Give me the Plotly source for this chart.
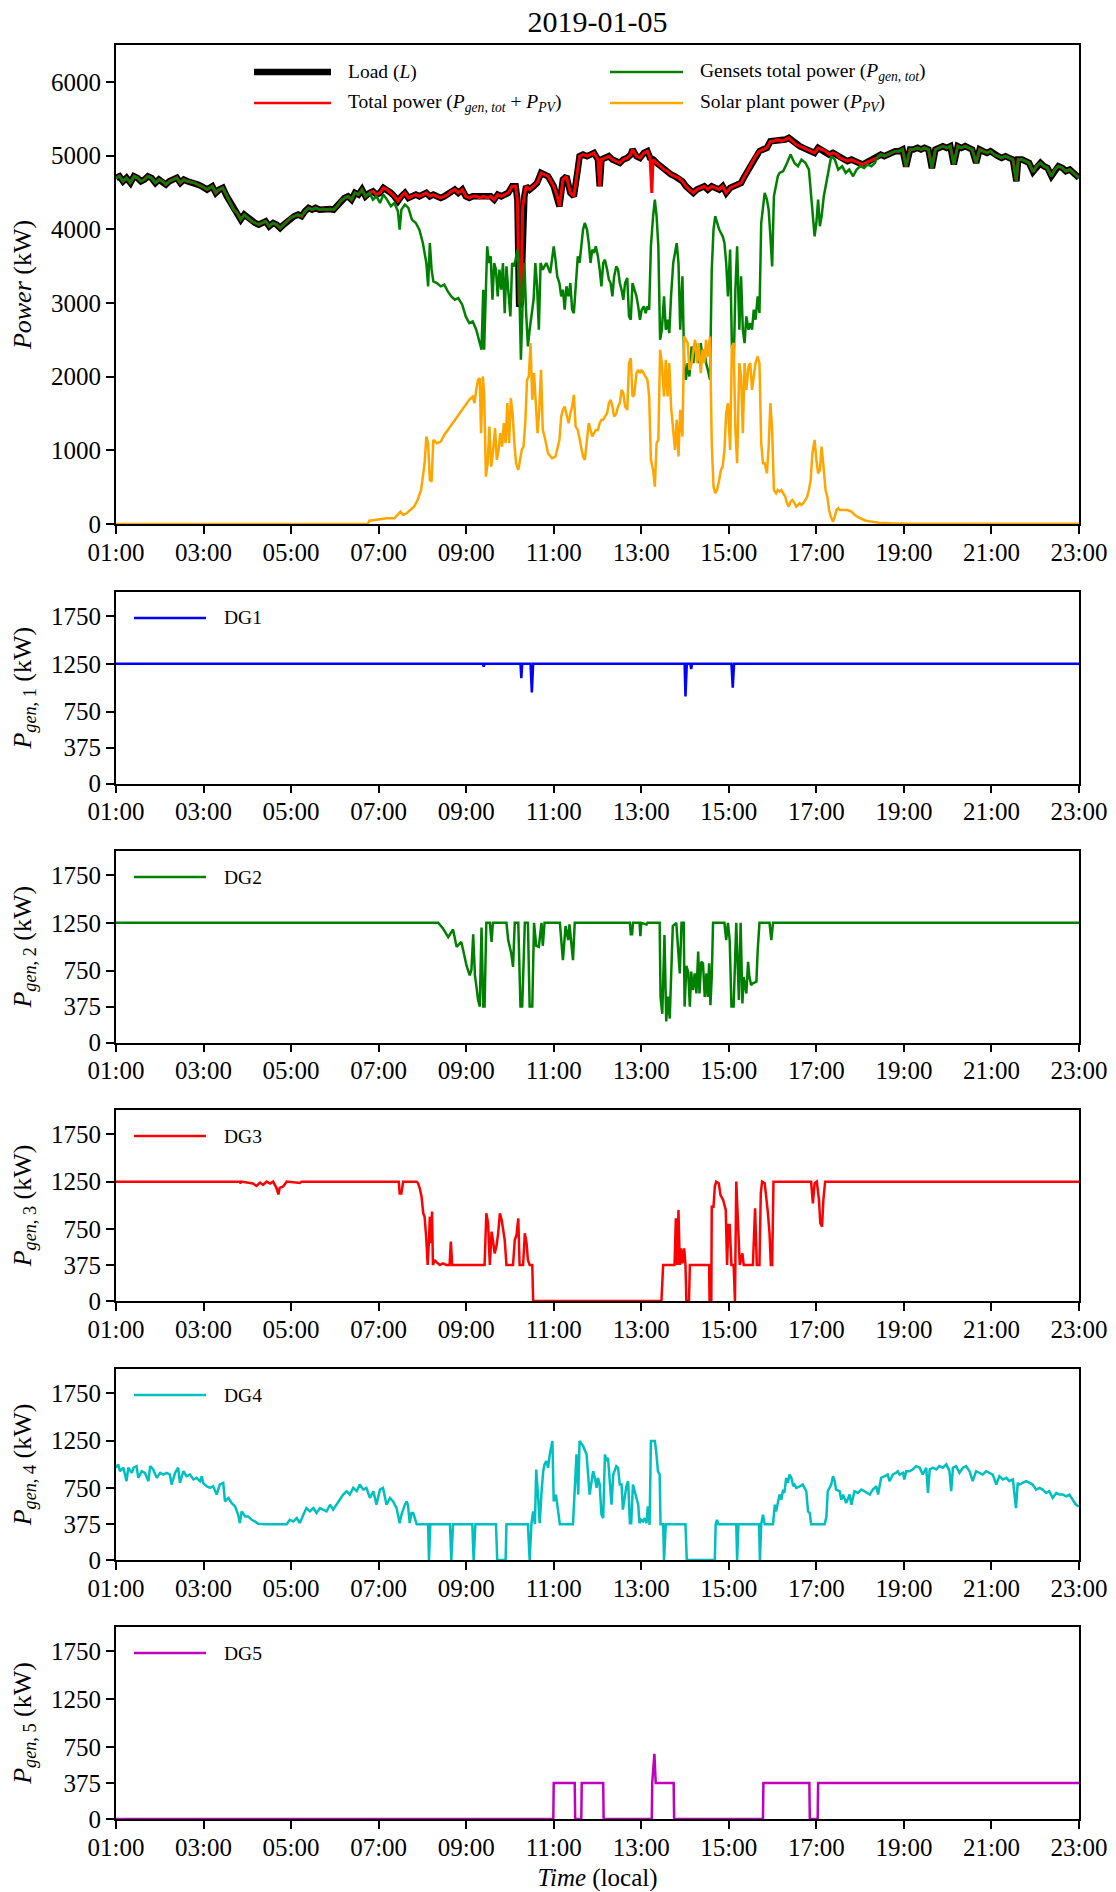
import pandas as pd
import plotly.graph_objects as go
from plotly.subplots import make_subplots

# ---------------------------------------------------------------- data
DAY = "2019-01-05"
X_TICKS = ["01:00", "03:00", "05:00", "07:00", "09:00", "11:00",
           "13:00", "15:00", "17:00", "19:00", "21:00", "23:00"]
TOP_YTICKS = [0, 1000, 2000, 3000, 4000, 5000, 6000]
DG_YTICKS = [0, 375, 750, 1250, 1750]

# load (L) and total power (Pgen,tot + PPV), hours of day / kW
lt_h = [
    1.00, 1.08, 1.16, 1.24, 1.33, 1.41, 1.49, 1.57, 1.65, 1.73,
    1.81, 1.90, 1.98, 2.06, 2.14, 2.22, 2.30, 2.39, 2.47, 2.55,
    2.63, 2.79, 2.87, 2.96, 3.08, 3.20, 3.28, 3.36, 3.44, 3.53,
    3.61, 3.69, 3.77, 3.85, 3.93, 4.02, 4.10, 4.18, 4.26, 4.34,
    4.42, 4.50, 4.59, 4.67, 4.75, 4.83, 4.91, 4.99, 5.07, 5.16,
    5.24, 5.32, 5.40, 5.48, 5.56, 5.65, 5.73, 5.81, 5.89, 5.97,
    6.05, 6.13, 6.22, 6.30, 6.38, 6.46, 6.54, 6.62, 6.70, 6.79,
    6.87, 6.95, 7.03, 7.11, 7.19, 7.28, 7.36, 7.44, 7.52, 7.60,
    7.68, 7.76, 7.85, 7.93, 8.01, 8.09, 8.17, 8.25, 8.33, 8.42,
    8.50, 8.58, 8.66, 8.74, 8.82, 8.91, 8.99, 9.07, 9.15, 9.23,
    9.31, 9.39, 9.48, 9.56, 9.64, 9.72, 9.80, 9.88, 9.96, 10.05,
    10.13, 10.17, 10.21, 10.25, 10.29, 10.33, 10.37, 10.45, 10.54, 10.62,
    10.71, 10.87, 11.00, 11.08, 11.13, 11.21, 11.29, 11.38, 11.46, 11.55,
    11.59, 11.67, 11.76, 11.84, 11.92, 12.01, 12.05, 12.09, 12.17, 12.26,
    12.34, 12.43, 12.51, 12.59, 12.68, 12.76, 12.80, 12.89, 12.97, 13.06,
    13.14, 13.20, 13.24, 13.27, 13.35, 13.43, 13.52, 13.60, 13.68, 13.77,
    13.85, 13.94, 14.02, 14.10, 14.19, 14.27, 14.36, 14.44, 14.52, 14.61,
    14.69, 14.78, 14.86, 14.94, 15.03, 15.11, 15.19, 15.28, 15.36, 15.45,
    15.53, 15.61, 15.70, 15.78, 15.87, 15.95, 16.03, 16.12, 16.20, 16.29,
    16.37, 16.45, 16.54, 16.62, 16.70, 16.79, 16.87, 16.96, 17.04, 17.12,
    17.21, 17.29, 17.38, 17.46, 17.54, 17.63, 17.71, 17.80, 17.88, 17.96,
    18.05, 18.13, 18.21, 18.30, 18.38, 18.47, 18.55, 18.63, 18.72, 18.80,
    18.89, 18.97, 19.05, 19.14, 19.22, 19.31, 19.39, 19.47, 19.56, 19.64,
    19.72, 19.81, 19.89, 19.98, 20.06, 20.14, 20.23, 20.31, 20.40, 20.48,
    20.56, 20.65, 20.73, 20.81, 20.90, 20.98, 21.07, 21.15, 21.23, 21.32,
    21.40, 21.49, 21.57, 21.61, 21.70, 21.78, 21.86, 21.95, 22.03, 22.12,
    22.20, 22.28, 22.37, 22.45, 22.53, 22.62, 22.70, 22.79, 22.87, 22.95,
    23.00,
]
load_kw = [
    4697, 4719, 4651, 4697, 4629, 4719, 4697, 4651, 4674, 4719,
    4697, 4629, 4674, 4651, 4606, 4651, 4674, 4697, 4629, 4674,
    4651, 4629, 4606, 4583, 4538, 4583, 4493, 4538, 4561, 4447,
    4357, 4266, 4221, 4130, 4198, 4153, 4108, 4085, 4062, 4085,
    4108, 4040, 4085, 4062, 4017, 4062, 4108, 4153, 4176, 4198,
    4176, 4244, 4289, 4266, 4289, 4266, 4275, 4266, 4275, 4266,
    4312, 4380, 4425, 4447, 4402, 4493, 4470, 4538, 4447, 4493,
    4515, 4470, 4493, 4561, 4538, 4493, 4447, 4380, 4447, 4493,
    4425, 4447, 4470, 4447, 4470, 4493, 4447, 4470, 4447, 4425,
    4447, 4470, 4515, 4538, 4493, 4538, 4447, 4425, 4447, 4447,
    4425, 4447, 4425, 4447, 4402, 4470, 4447, 4470, 4493, 4583,
    4583, 4400, 2950, 3000, 4300, 4450, 4583, 4538, 4583, 4629,
    4764, 4719, 4583, 4447, 4312, 4674, 4719, 4493, 4447, 4810,
    4991, 5013, 4991, 5013, 5036, 4946, 4583, 4946, 4968, 4991,
    4946, 4923, 4900, 4946, 4968, 5013, 5082, 4991, 4968, 5036,
    5059, 4968, 4968, 4946, 4900, 4855, 4810, 4787, 4742, 4719,
    4697, 4651, 4583, 4538, 4493, 4538, 4561, 4583, 4538, 4583,
    4561, 4538, 4583, 4493, 4561, 4583, 4606, 4629, 4719, 4810,
    4900, 4991, 5059, 5082, 5104, 5195, 5195, 5217, 5195, 5217,
    5240, 5195, 5149, 5127, 5104, 5082, 5059, 5036, 5104, 5082,
    5059, 5013, 5036, 5013, 4968, 4946, 4923, 4946, 4923, 4900,
    4878, 4900, 4923, 4946, 4968, 5013, 4991, 5013, 5036, 5059,
    5059, 5082, 4850, 5082, 5082, 5104, 5082, 5104, 5082, 4830,
    5082, 5104, 5127, 5104, 5127, 4880, 5127, 5104, 5127, 5104,
    5082, 4900, 5082, 5059, 5036, 5059, 5013, 4991, 4968, 4991,
    4968, 4946, 4651, 4946, 4946, 4923, 4900, 4780, 4855, 4900,
    4855, 4832, 4720, 4810, 4855, 4832, 4787, 4810, 4764, 4719,
    4697,
]
total_kw = [
    4697, 4719, 4651, 4697, 4629, 4719, 4697, 4651, 4674, 4719,
    4697, 4629, 4674, 4651, 4606, 4651, 4674, 4697, 4629, 4674,
    4651, 4629, 4606, 4583, 4538, 4583, 4493, 4538, 4561, 4447,
    4357, 4266, 4221, 4130, 4198, 4153, 4108, 4085, 4062, 4085,
    4108, 4040, 4085, 4062, 4017, 4062, 4108, 4153, 4176, 4198,
    4176, 4244, 4289, 4266, 4289, 4266, 4275, 4266, 4275, 4266,
    4312, 4380, 4425, 4447, 4402, 4493, 4470, 4538, 4447, 4493,
    4515, 4470, 4493, 4561, 4538, 4493, 4447, 4380, 4447, 4493,
    4425, 4447, 4470, 4447, 4470, 4493, 4447, 4470, 4447, 4425,
    4447, 4470, 4515, 4538, 4493, 4538, 4447, 4425, 4447, 4447,
    4425, 4447, 4425, 4447, 4402, 4470, 4447, 4470, 4493, 4583,
    4583, 4400, 2980, 3020, 4300, 4450, 4583, 4538, 4583, 4629,
    4764, 4719, 4583, 4447, 4312, 4674, 4719, 4493, 4447, 4810,
    4991, 5013, 4991, 5013, 5036, 4946, 4583, 4946, 4968, 4991,
    4946, 4923, 4900, 4946, 4968, 5013, 5082, 4991, 4968, 5036,
    5059, 4968, 4493, 4946, 4900, 4855, 4810, 4787, 4742, 4719,
    4697, 4651, 4583, 4538, 4493, 4538, 4561, 4583, 4538, 4583,
    4561, 4538, 4583, 4493, 4561, 4583, 4606, 4629, 4719, 4810,
    4900, 4991, 5059, 5082, 5104, 5195, 5195, 5217, 5195, 5217,
    5240, 5195, 5149, 5127, 5104, 5082, 5059, 5036, 5104, 5082,
    5059, 5013, 5036, 5013, 4968, 4946, 4923, 4946, 4923, 4900,
    4878, 4900, 4923, 4946, 4968, 5013, 4991, 5013, 5036, 5059,
    5059, 5082, 4850, 5082, 5082, 5104, 5082, 5104, 5082, 4830,
    5082, 5104, 5127, 5104, 5127, 4880, 5127, 5104, 5127, 5104,
    5082, 4900, 5082, 5059, 5036, 5059, 5013, 4991, 4968, 4991,
    4968, 4946, 4651, 4946, 4946, 4923, 4900, 4780, 4855, 4900,
    4855, 4832, 4720, 4810, 4855, 4832, 4787, 4810, 4764, 4719,
    4697,
]

# gensets total power (Pgen,tot)
gen_h = [
    1.00, 1.08, 1.16, 1.24, 1.33, 1.41, 1.49, 1.57, 1.65, 1.73,
    1.81, 1.90, 1.98, 2.06, 2.14, 2.22, 2.30, 2.39, 2.47, 2.55,
    2.63, 2.79, 2.87, 2.96, 3.08, 3.20, 3.28, 3.36, 3.44, 3.53,
    3.61, 3.69, 3.77, 3.85, 3.93, 4.02, 4.10, 4.18, 4.26, 4.34,
    4.42, 4.50, 4.59, 4.67, 4.75, 4.83, 4.91, 4.99, 5.07, 5.16,
    5.24, 5.32, 5.40, 5.48, 5.56, 5.65, 5.73, 5.81, 5.89, 5.97,
    6.05, 6.13, 6.22, 6.30, 6.38, 6.46, 6.54, 6.62, 6.70, 6.79,
    6.87, 6.95, 7.03, 7.11, 7.19, 7.28, 7.36, 7.44, 7.48, 7.52,
    7.60, 7.68, 7.76, 7.85, 7.93, 8.01, 8.09, 8.13, 8.17, 8.21,
    8.25, 8.33, 8.42, 8.50, 8.58, 8.66, 8.74, 8.82, 8.91, 8.99,
    9.07, 9.15, 9.23, 9.31, 9.35, 9.39, 9.41, 9.48, 9.52, 9.56,
    9.60, 9.64, 9.68, 9.72, 9.76, 9.80, 9.84, 9.88, 9.92, 9.96,
    10.01, 10.05, 10.09, 10.13, 10.17, 10.21, 10.25, 10.29, 10.33, 10.37,
    10.41, 10.45, 10.54, 10.58, 10.62, 10.66, 10.70, 10.75, 10.83, 10.92,
    10.96, 11.00, 11.04, 11.08, 11.13, 11.17, 11.21, 11.25, 11.29, 11.34,
    11.38, 11.42, 11.46, 11.50, 11.55, 11.59, 11.63, 11.67, 11.71, 11.76,
    11.80, 11.84, 11.88, 11.92, 11.96, 12.01, 12.05, 12.09, 12.13, 12.17,
    12.22, 12.26, 12.30, 12.34, 12.38, 12.43, 12.47, 12.51, 12.55, 12.59,
    12.63, 12.68, 12.72, 12.76, 12.80, 12.84, 12.89, 12.93, 12.97, 13.01,
    13.06, 13.10, 13.14, 13.18, 13.22, 13.27, 13.31, 13.35, 13.39, 13.43,
    13.47, 13.52, 13.56, 13.60, 13.64, 13.68, 13.73, 13.77, 13.81, 13.85,
    13.89, 13.94, 13.98, 14.02, 14.06, 14.10, 14.15, 14.19, 14.23, 14.27,
    14.31, 14.36, 14.40, 14.44, 14.48, 14.52, 14.57, 14.61, 14.65, 14.69,
    14.73, 14.78, 14.82, 14.86, 14.90, 14.94, 14.98, 15.03, 15.07, 15.11,
    15.15, 15.19, 15.24, 15.28, 15.32, 15.36, 15.40, 15.45, 15.49, 15.53,
    15.57, 15.61, 15.66, 15.70, 15.74, 15.78, 15.82, 15.87, 15.91, 15.95,
    15.99, 16.03, 16.08, 16.12, 16.16, 16.24, 16.33, 16.41, 16.50, 16.58,
    16.66, 16.75, 16.83, 16.91, 16.96, 17.00, 17.04, 17.08, 17.12, 17.17,
    17.25, 17.34, 17.42, 17.50, 17.59, 17.67, 17.75, 17.84, 17.92, 18.00,
    18.09, 18.17, 18.26, 18.34, 18.38, 18.47, 18.55, 18.63, 18.72, 18.80,
    18.89, 18.97, 19.05, 19.14, 19.22, 19.31, 19.39, 19.47, 19.56, 19.64,
    19.72, 19.81, 19.89, 19.98, 20.06, 20.14, 20.23, 20.31, 20.40, 20.48,
    20.56, 20.65, 20.73, 20.81, 20.90, 20.98, 21.07, 21.15, 21.23, 21.32,
    21.40, 21.49, 21.57, 21.61, 21.70, 21.78, 21.86, 21.95, 22.03, 22.12,
    22.20, 22.28, 22.37, 22.45, 22.53, 22.62, 22.70, 22.79, 22.87, 22.95,
    23.00,
]
gen_kw = [
    4697, 4719, 4651, 4697, 4629, 4719, 4697, 4651, 4674, 4719,
    4697, 4629, 4674, 4651, 4606, 4651, 4674, 4697, 4629, 4674,
    4651, 4629, 4606, 4583, 4538, 4583, 4493, 4538, 4561, 4447,
    4357, 4266, 4221, 4130, 4198, 4153, 4108, 4085, 4062, 4085,
    4108, 4040, 4085, 4062, 4017, 4062, 4108, 4153, 4176, 4198,
    4176, 4244, 4289, 4266, 4289, 4266, 4275, 4266, 4275, 4266,
    4312, 4380, 4425, 4447, 4402, 4493, 4470, 4538, 4447, 4493,
    4402, 4447, 4357, 4470, 4402, 4312, 4357, 4244, 3995, 4266,
    4334, 4289, 4130, 4085, 3995, 3813, 3542, 3225, 3813, 3451,
    3293, 3270, 3225, 3247, 3157, 3089, 3043, 3066, 2976, 2817,
    2726, 2749, 2636, 2477, 2364, 3179, 2364, 3768, 3542, 3632,
    3043, 3542, 3451, 3089, 3451, 3179, 3542, 2862, 3496, 3179,
    2817, 3542, 3496, 3587, 3723, 3315, 2228, 3000, 3542, 2862,
    2409, 2636, 3043, 3542, 3225, 2636, 3542, 3451, 3542, 3406,
    3632, 3768, 3587, 3360, 3270, 3089, 3179, 2908, 3225, 3089,
    3270, 2908, 2862, 3270, 3632, 3542, 3813, 3995, 4085, 3995,
    3813, 3542, 3723, 3677, 3768, 3632, 3451, 3225, 3542, 3587,
    3451, 3315, 3270, 3089, 3360, 3496, 3451, 3270, 3179, 3043,
    3270, 3338, 2817, 2772, 3270, 3179, 3089, 2953, 2772, 2908,
    2953, 2862, 2953, 2908, 3768, 4176, 4402, 4176, 3768, 2500,
    2636, 3089, 2636, 2772, 2590, 3089, 3542, 3677, 3813, 3542,
    2636, 3360, 2183, 1957, 2183, 2002, 2409, 2183, 2455, 2364,
    2183, 2455, 2228, 2364, 2183, 2092, 1957, 3451, 3995, 4176,
    4085, 3995, 3949, 3904, 3813, 3542, 3089, 3723, 2409, 2138,
    3179, 3768, 2636, 3360, 2636, 2455, 2817, 2636, 2726, 2636,
    2908, 2772, 3089, 2862, 4085, 4312, 4493, 4402, 4266, 3904,
    3496, 4447, 4629, 4719, 4764, 4787, 4900, 5013, 4900, 4855,
    4945, 4900, 4810, 4176, 3904, 4085, 4402, 4040, 4176, 4447,
    4719, 4991, 4946, 4810, 4855, 4764, 4810, 4719, 4810, 4855,
    4832, 4878, 4855, 4900, 4968, 5013, 4991, 5013, 5036, 5059,
    5059, 5082, 4850, 5082, 5082, 5104, 5082, 5104, 5082, 4830,
    5082, 5104, 5127, 5104, 5127, 4880, 5127, 5104, 5127, 5104,
    5082, 4900, 5082, 5059, 5036, 5059, 5013, 4991, 4968, 4991,
    4968, 4946, 4651, 4946, 4946, 4923, 4900, 4780, 4855, 4900,
    4855, 4832, 4720, 4810, 4855, 4832, 4787, 4810, 4764, 4719,
    4697,
]

# solar plant power (PPV)
pv_h = [
    1.00, 6.75, 6.79, 7.03, 7.19, 7.36, 7.44, 7.50, 7.56, 7.64,
    7.72, 7.81, 7.89, 7.97, 8.05, 8.09, 8.13, 8.17, 8.21, 8.25,
    8.33, 8.42, 8.50, 8.58, 8.66, 8.74, 8.82, 8.91, 8.99, 9.07,
    9.15, 9.19, 9.23, 9.27, 9.31, 9.34, 9.38, 9.41, 9.45, 9.49,
    9.53, 9.57, 9.61, 9.66, 9.70, 9.74, 9.78, 9.82, 9.86, 9.90,
    9.94, 9.98, 10.02, 10.06, 10.10, 10.14, 10.19, 10.23, 10.27, 10.31,
    10.35, 10.39, 10.43, 10.47, 10.51, 10.55, 10.59, 10.63, 10.67, 10.71,
    10.75, 10.79, 10.87, 10.96, 11.04, 11.13, 11.17, 11.21, 11.25, 11.29,
    11.34, 11.38, 11.42, 11.46, 11.50, 11.55, 11.59, 11.63, 11.67, 11.71,
    11.76, 11.80, 11.84, 11.88, 11.92, 11.96, 12.01, 12.05, 12.09, 12.13,
    12.17, 12.22, 12.26, 12.30, 12.34, 12.38, 12.43, 12.47, 12.51, 12.55,
    12.59, 12.63, 12.68, 12.72, 12.76, 12.80, 12.84, 12.89, 12.93, 12.97,
    13.01, 13.06, 13.10, 13.14, 13.18, 13.22, 13.27, 13.31, 13.35, 13.39,
    13.43, 13.47, 13.52, 13.56, 13.60, 13.64, 13.68, 13.73, 13.77, 13.81,
    13.85, 13.89, 13.94, 13.98, 14.02, 14.06, 14.10, 14.15, 14.19, 14.23,
    14.27, 14.31, 14.36, 14.40, 14.44, 14.48, 14.52, 14.57, 14.61, 14.65,
    14.69, 14.73, 14.78, 14.82, 14.86, 14.90, 14.94, 14.98, 15.03, 15.07,
    15.11, 15.15, 15.19, 15.24, 15.28, 15.32, 15.36, 15.40, 15.45, 15.49,
    15.53, 15.57, 15.61, 15.66, 15.70, 15.74, 15.78, 15.82, 15.87, 15.91,
    15.95, 15.99, 16.03, 16.08, 16.12, 16.16, 16.20, 16.24, 16.29, 16.33,
    16.37, 16.41, 16.45, 16.50, 16.54, 16.58, 16.62, 16.66, 16.70, 16.75,
    16.79, 16.83, 16.87, 16.91, 16.96, 17.00, 17.04, 17.08, 17.12, 17.17,
    17.21, 17.25, 17.29, 17.33, 17.38, 17.42, 17.46, 17.50, 17.54, 17.63,
    17.71, 17.80, 17.88, 17.96, 18.05, 18.13, 18.26, 18.42, 18.68, 19.10,
    23.00,
]
pv_kw = [
    0, 0, 45, 63, 77, 77, 122, 168, 122, 145,
    190, 235, 326, 462, 824, 1187, 1096, 598, 575, 1141,
    1096, 1118, 1209, 1277, 1345, 1413, 1481, 1549, 1617, 1685,
    1730, 1640, 1821, 1957, 1979, 1232, 2002, 1775, 643, 824,
    1322, 779, 960, 1300, 870, 1005, 1232, 1051, 1368, 1096,
    1640, 1096, 1707, 1504, 1096, 824, 734, 870, 1005, 1051,
    1368, 1957, 2002, 2455, 1685, 2047, 1594, 1232, 1549, 2092,
    1277, 1187, 960, 892, 915, 1141, 1458, 1549, 1594, 1504,
    1368, 1504, 1594, 1753, 1322, 1277, 1141, 1051, 915, 870,
    1141, 1368, 1277, 1187, 1232, 1277, 1277, 1368, 1413, 1413,
    1458, 1504, 1640, 1685, 1594, 1458, 1504, 1594, 1640, 1821,
    1775, 1594, 1549, 2183, 2251, 1730, 1753, 2047, 2092, 2047,
    2092, 2047, 2002, 1957, 1730, 870, 734, 507, 1096, 1141,
    2364, 2183, 1730, 2228, 1730, 2183, 1594, 1277, 1005, 1413,
    915, 1549, 1187, 2545, 2500, 2455, 2092, 2183, 2364, 2500,
    2183, 2455, 2047, 2364, 2183, 2500, 2273, 2545, 1096, 507,
    417, 462, 598, 734, 779, 1005, 1504, 1640, 1005, 2409,
    2455, 1277, 824, 2183, 2002, 1232, 2183, 1821, 2138, 2183,
    1821, 2047, 2183, 2273, 2183, 1096, 824, 824, 688, 1051,
    1640, 1277, 462, 417, 462, 440, 462, 417, 371, 281,
    235, 303, 326, 281, 235, 258, 281, 258, 281, 326,
    371, 462, 598, 960, 1141, 870, 688, 734, 1051, 734,
    462, 371, 190, 100, 32, 100, 190, 213, 190, 190,
    190, 168, 122, 91, 63, 45, 32, 18, 9, 5,
    5,
]

# individual gensets
dg1_h = [1.00, 9.38, 9.40, 9.42, 10.24, 10.26, 10.28, 10.47, 10.50, 10.53,
         13.99, 14.01, 14.04, 14.12, 14.14, 14.16, 15.06, 15.09, 15.12, 23.00]
dg1_kw = [1250, 1250, 1220, 1250, 1250, 1100, 1250, 1250, 950, 1250,
          1250, 910, 1250, 1250, 1195, 1250, 1250, 1000, 1250, 1250]

dg2_h = [
    1.00, 8.36, 8.47, 8.59, 8.70, 8.78, 8.89, 9.01, 9.08, 9.12,
    9.16, 9.20, 9.23, 9.27, 9.31, 9.35, 9.39, 9.42, 9.46, 9.54,
    9.58, 9.61, 9.92, 9.96, 10.03, 10.07, 10.11, 10.19, 10.24, 10.28,
    10.34, 10.41, 10.45, 10.51, 10.55, 10.60, 10.66, 10.72, 10.75, 10.79,
    11.14, 11.21, 11.27, 11.33, 11.36, 11.40, 11.44, 11.48, 12.74, 12.76,
    12.79, 12.81, 12.96, 12.98, 13.00, 13.12, 13.14, 13.42, 13.44, 13.48,
    13.53, 13.57, 13.61, 13.65, 13.69, 13.72, 13.80, 13.88, 13.92, 13.97,
    13.99, 14.03, 14.07, 14.11, 14.14, 14.18, 14.22, 14.26, 14.30, 14.33,
    14.37, 14.41, 14.45, 14.49, 14.52, 14.55, 14.58, 14.61, 14.64, 14.90,
    14.94, 14.98, 15.02, 15.06, 15.11, 15.17, 15.23, 15.27, 15.31, 15.34,
    15.40, 15.44, 15.47, 15.51, 15.55, 15.63, 15.66, 15.70, 15.93, 15.97,
    16.01, 23.00,
]
dg2_kw = [
    1250, 1250, 1190, 1100, 1180, 1000, 1050, 800, 700, 760,
    1130, 700, 600, 450, 375, 1200, 375, 375, 1250, 1250,
    1050, 1250, 1250, 1070, 930, 790, 1250, 1250, 375, 375,
    1250, 1250, 375, 375, 1250, 1010, 1000, 1250, 1010, 1250,
    1250, 860, 1216, 1070, 1233, 1036, 860, 1250, 1250, 1130,
    1130, 1250, 1250, 1110, 1250, 1233, 1250, 1250, 480, 300,
    1123, 220, 480, 250, 721, 1216, 1250, 721, 1250, 1250,
    375, 800, 740, 375, 740, 547, 721, 512, 950, 512,
    843, 826, 477, 721, 477, 826, 390, 686, 1250, 1250,
    1070, 1250, 1070, 375, 375, 1250, 443, 1250, 408, 686,
    512, 843, 686, 600, 617, 634, 966, 1250, 1250, 1070,
    1250, 1250,
]

dg3_h = [
    1.00, 3.83, 3.84, 3.86, 4.13, 4.21, 4.29, 4.36, 4.44, 4.52,
    4.59, 4.67, 4.71, 4.74, 4.82, 4.90, 5.20, 5.24, 7.46, 7.48,
    7.52, 7.56, 7.87, 7.90, 7.94, 7.98, 8.02, 8.05, 8.09, 8.12,
    8.15, 8.17, 8.19, 8.22, 8.24, 8.28, 8.31, 8.40, 8.47, 8.55,
    8.62, 8.65, 8.68, 9.42, 9.46, 9.50, 9.54, 9.58, 9.61, 9.65,
    9.69, 9.73, 9.77, 9.81, 9.84, 9.88, 9.92, 10.07, 10.11, 10.15,
    10.19, 10.22, 10.30, 10.34, 10.38, 10.41, 10.45, 10.51, 10.53, 13.46,
    13.50, 13.76, 13.79, 13.82, 13.85, 13.88, 13.91, 13.94, 13.98, 14.01,
    14.03, 14.09, 14.11, 14.55, 14.56, 14.60, 14.61, 14.65, 14.68, 14.71,
    14.77, 14.81, 14.87, 14.93, 14.96, 14.99, 15.02, 15.06, 15.11, 15.14,
    15.17, 15.21, 15.25, 15.31, 15.34, 15.55, 15.60, 15.64, 15.70, 15.73,
    15.76, 15.82, 15.86, 15.89, 15.93, 15.96, 15.99, 16.02, 16.88, 16.92,
    16.96, 17.01, 17.06, 17.09, 17.13, 17.16, 17.20, 23.00,
]
dg3_kw = [
    1250, 1250, 1230, 1250, 1230, 1205, 1240, 1215, 1250, 1230,
    1250, 1180, 1115, 1185, 1200, 1250, 1235, 1250, 1250, 1125,
    1125, 1250, 1250, 1233, 1180, 1093, 918, 883, 639, 377,
    639, 883, 604, 936, 377, 429, 412, 377, 394, 377,
    377, 622, 377, 377, 918, 814, 377, 726, 639, 499,
    569, 709, 918, 848, 761, 639, 377, 377, 639, 691,
    866, 377, 377, 709, 604, 429, 377, 377, 0, 0,
    377, 377, 866, 377, 953, 377, 552, 394, 552, 377,
    0, 0, 377, 377, 0, 0, 988, 988, 1198, 1250,
    1233, 1110, 1058, 953, 377, 796, 796, 377, 377, 0,
    1250, 709, 377, 499, 377, 377, 971, 377, 377, 1128,
    1250, 1233, 1093, 936, 709, 377, 377, 1250, 1250, 1023,
    1233, 1250, 1058, 814, 779, 1058, 1250, 1250,
]

dg4_h = [
    1.00, 1.05, 1.09, 1.17, 1.24, 1.28, 1.36, 1.40, 1.47, 1.51,
    1.59, 1.66, 1.74, 1.78, 1.85, 1.93, 2.01, 2.08, 2.16, 2.23,
    2.27, 2.35, 2.42, 2.46, 2.54, 2.61, 2.69, 2.77, 2.84, 2.92,
    2.96, 2.99, 3.07, 3.15, 3.22, 3.30, 3.37, 3.45, 3.49, 3.57,
    3.64, 3.72, 3.79, 3.83, 3.87, 3.95, 4.02, 4.10, 4.17, 4.25,
    4.44, 4.90, 4.97, 5.05, 5.13, 5.20, 5.28, 5.35, 5.43, 5.51,
    5.58, 5.66, 5.81, 5.89, 5.96, 6.04, 6.11, 6.19, 6.27, 6.34,
    6.42, 6.50, 6.57, 6.65, 6.72, 6.80, 6.88, 6.95, 7.03, 7.10,
    7.18, 7.26, 7.33, 7.41, 7.48, 7.52, 7.60, 7.64, 7.67, 7.71,
    7.75, 7.79, 7.87, 8.13, 8.15, 8.18, 8.63, 8.66, 8.70, 9.14,
    9.17, 9.21, 9.68, 9.71, 9.90, 9.92, 10.41, 10.45, 10.49, 10.53,
    10.57, 10.60, 10.64, 10.68, 10.72, 10.76, 10.79, 10.83, 10.87, 10.91,
    10.97, 11.00, 11.05, 11.10, 11.14, 11.44, 11.52, 11.56, 11.59, 11.67,
    11.75, 11.82, 11.90, 11.94, 11.98, 12.01, 12.05, 12.09, 12.13, 12.17,
    12.20, 12.24, 12.28, 12.32, 12.36, 12.39, 12.43, 12.47, 12.51, 12.55,
    12.58, 12.62, 12.66, 12.70, 12.74, 12.77, 12.81, 12.85, 12.89, 12.93,
    12.96, 13.00, 13.04, 13.08, 13.12, 13.15, 13.19, 13.22, 13.31, 13.34,
    13.38, 13.42, 13.44, 13.50, 13.52, 13.56, 14.01, 14.04, 14.68, 14.70,
    14.73, 14.76, 15.17, 15.19, 15.22, 15.69, 15.71, 15.74, 15.78, 15.82,
    16.01, 16.05, 16.08, 16.12, 16.16, 16.20, 16.24, 16.27, 16.31, 16.35,
    16.39, 16.43, 16.47, 16.50, 16.54, 16.62, 16.69, 16.77, 16.81, 16.85,
    16.88, 17.19, 17.23, 17.26, 17.34, 17.38, 17.42, 17.45, 17.53, 17.57,
    17.61, 17.68, 17.76, 17.80, 17.87, 17.95, 18.03, 18.10, 18.18, 18.22,
    18.29, 18.37, 18.41, 18.48, 18.56, 18.63, 18.67, 18.75, 18.82, 18.86,
    18.90, 18.98, 19.01, 19.05, 19.13, 19.20, 19.28, 19.36, 19.43, 19.51,
    19.55, 19.59, 19.66, 19.74, 19.81, 19.89, 19.97, 20.04, 20.08, 20.12,
    20.19, 20.27, 20.35, 20.42, 20.50, 20.57, 20.65, 20.73, 20.80, 20.88,
    20.96, 21.03, 21.11, 21.18, 21.26, 21.34, 21.41, 21.49, 21.56, 21.60,
    21.64, 21.72, 21.79, 21.87, 21.94, 22.02, 22.10, 22.17, 22.25, 22.32,
    22.40, 22.48, 22.55, 22.63, 22.71, 22.78, 22.86, 22.93, 23.00,
]
dg4_kw = [
    966, 1001, 930, 966, 825, 966, 913, 966, 983, 860,
    930, 913, 825, 983, 948, 860, 913, 895, 913, 895,
    790, 913, 966, 808, 930, 878, 895, 843, 860, 825,
    878, 808, 772, 755, 772, 685, 790, 808, 614, 650,
    597, 562, 474, 386, 509, 456, 456, 421, 404, 379,
    375, 375, 421, 404, 439, 386, 474, 544, 509, 544,
    492, 544, 509, 579, 527, 579, 632, 685, 720, 685,
    755, 720, 790, 737, 755, 650, 720, 579, 737, 755,
    579, 650, 614, 544, 386, 474, 579, 614, 579, 386,
    492, 492, 375, 375, 0, 375, 375, 0, 375, 375,
    0, 375, 375, 0, 0, 375, 375, 0, 375, 509,
    375, 948, 685, 386, 702, 930, 1001, 1036, 966, 1106,
    1246, 614, 685, 509, 375, 375, 1106, 685, 1246, 1194,
    1106, 685, 930, 860, 755, 860, 790, 474, 439, 1106,
    1036, 1071, 860, 579, 895, 930, 983, 966, 790, 790,
    527, 650, 772, 825, 386, 386, 790, 720, 650, 579,
    386, 421, 404, 439, 386, 562, 369, 1246, 1246, 1141,
    930, 895, 375, 375, 0, 375, 375, 0, 0, 375,
    421, 375, 375, 0, 375, 375, 0, 375, 474, 375,
    375, 579, 509, 614, 685, 632, 737, 702, 860, 808,
    895, 860, 772, 790, 755, 772, 790, 720, 509, 492,
    375, 375, 456, 720, 790, 878, 825, 737, 720, 632,
    685, 597, 685, 579, 720, 702, 737, 720, 702, 685,
    737, 772, 685, 860, 878, 895, 825, 895, 913, 930,
    895, 913, 843, 930, 930, 948, 983, 966, 895, 966,
    702, 948, 966, 948, 983, 966, 1001, 930, 720, 966,
    983, 913, 966, 983, 930, 825, 930, 913, 895, 930,
    913, 895, 790, 878, 843, 860, 825, 843, 544, 808,
    790, 808, 825, 808, 790, 737, 755, 737, 702, 720,
    650, 702, 685, 685, 667, 685, 632, 579, 560,
]

dg5_h = [1.00, 10.99, 11.00, 11.48, 11.49, 11.63, 11.64, 12.13, 12.14, 13.24,
         13.25, 13.30, 13.33, 13.74, 13.75, 15.78, 15.79, 16.84, 16.85, 17.03,
         17.04, 23.00]
dg5_kw = [0, 0, 375, 375, 0, 0, 375, 375, 0, 0,
          375, 680, 375, 375, 0, 0, 375, 375, 0, 0,
          375, 375]

# ---------------------------------------------------------------- helpers
FONT = "Liberation Serif, Times New Roman, serif"
FIG_W, FIG_H = 1116, 1892
M_L, M_R, M_T, M_B = 116, 37, 45, 73
PLOT_W = FIG_W - M_L - M_R
PLOT_H = FIG_H - M_T - M_B
PANELS_PX = [(45, 524), (592, 783.5), (851, 1042.5), (1110, 1301),
             (1369, 1560), (1627, 1819)]


def to_time(hours):
    return list(pd.Timestamp(DAY) + pd.to_timedelta(pd.Series(hours, dtype=float), unit="h"))


def hhmm_to_time(labels):
    return [pd.Timestamp(f"{DAY} {s}") for s in labels]


def px_x(px):
    return (px - M_L) / PLOT_W


def px_y(py):
    return (FIG_H - M_B - py) / PLOT_H


# ---------------------------------------------------------------- figure
fig = make_subplots(rows=6, cols=1)

top_series = [
    ("Load (L)", lt_h, load_kw, "#000000", 6.5),
    ("Total power", lt_h, total_kw, "#FF0000", 3.0),
    ("Gensets total power", gen_h, gen_kw, "#008000", 2.5),
    ("Solar plant power", pv_h, pv_kw, "#FFA500", 2.5),
]
for name, hh, vv, col, w in top_series:
    fig.add_trace(go.Scatter(x=to_time(hh), y=vv, mode="lines", name=name,
                             line=dict(color=col, width=w), showlegend=False),
                  row=1, col=1)

dg_series = [
    ("DG1", dg1_h, dg1_kw, "#0000FF"),
    ("DG2", dg2_h, dg2_kw, "#008000"),
    ("DG3", dg3_h, dg3_kw, "#FF0000"),
    ("DG4", dg4_h, dg4_kw, "#00BFBF"),
    ("DG5", dg5_h, dg5_kw, "#BF00BF"),
]
for i, (name, hh, vv, col) in enumerate(dg_series):
    fig.add_trace(go.Scatter(x=to_time(hh), y=vv, mode="lines", name=name,
                             line=dict(color=col, width=2.5), showlegend=False),
                  row=i + 2, col=1)

x_tickvals = hhmm_to_time(X_TICKS)
x_range = [x_tickvals[0], x_tickvals[-1]]
axis_common = dict(showline=True, mirror=True, linecolor="black", linewidth=1.8,
                   ticks="outside", ticklen=8, tickwidth=1.8, tickcolor="black",
                   showgrid=False, zeroline=False, automargin=False,
                   tickfont=dict(family=FONT, size=25, color="black"))

y_titles = ["<i>Power</i> (kW)"] + [
    f"<i>P</i><sub><i>gen</i>, {k}</sub> (kW)" for k in range(1, 6)]

for r in range(6):
    top_px, bot_px = PANELS_PX[r]
    fig.update_xaxes(row=r + 1, col=1, type="date", range=x_range,
                     tickvals=x_tickvals, ticktext=X_TICKS,
                     ticklabelstandoff=-3, **axis_common)
    if r == 0:
        yr, yt = [0, 6500], TOP_YTICKS
    else:
        yr, yt = [0, 2000], DG_YTICKS
    fig.update_yaxes(row=r + 1, col=1, range=yr, tickvals=yt,
                     domain=[px_y(bot_px), px_y(top_px)],
                     title=dict(text=y_titles[r], standoff=12,
                                font=dict(family=FONT, size=26, color="black")),
                     **axis_common)

fig.update_xaxes(row=6, col=1,
                 title=dict(text="<i>Time</i> (local)", standoff=9,
                            font=dict(family=FONT, size=25, color="black")))

# ---------------------------------------------------------------- legends
shapes, annos = [], []


def legend_item(x0, x1, xt, y, color, width, text):
    shapes.append(dict(type="line", xref="paper", yref="paper",
                       x0=px_x(x0), x1=px_x(x1), y0=px_y(y), y1=px_y(y),
                       line=dict(color=color, width=width)))
    annos.append(dict(xref="paper", yref="paper", x=px_x(xt), y=px_y(y),
                      xanchor="left", yanchor="middle", showarrow=False,
                      text=text, font=dict(family=FONT, size=19.5, color="black")))


legend_item(254, 331, 346, 72, "#000000", 6.5, "Load (<i>L</i>)")
legend_item(254, 331, 346, 103, "#FF0000", 2.6,
            "Total power (<i>P</i><sub><i>gen, tot</i></sub> + <i>P</i><sub><i>PV</i></sub>)")
legend_item(610, 683, 698, 72, "#008000", 2.6,
            "Gensets total power (<i>P</i><sub><i>gen, tot</i></sub>)")
legend_item(610, 683, 698, 103, "#FFA500", 2.6,
            "Solar plant power (<i>P</i><sub><i>PV</i></sub>)")
for i, (name, _, _, col) in enumerate(dg_series):
    top_px = PANELS_PX[i + 1][0]
    legend_item(134, 206, 222, top_px + 26, col, 2.6, name)

fig.update_layout(
    width=FIG_W, height=FIG_H,
    margin=dict(l=M_L, r=M_R, t=M_T, b=M_B),
    paper_bgcolor="white", plot_bgcolor="white",
    font=dict(family=FONT, color="black"),
    title=dict(text="2019-01-05", x=0.5, xref="paper", xanchor="center",
               y=1 - 21 / FIG_H, yref="container", yanchor="middle",
               font=dict(family=FONT, size=30, color="black")),
    shapes=shapes, annotations=annos,
    showlegend=False,
)

# the page's default 8px body margin would shift the figure; remove it
fig.write_html("out.html",
               config={"displayModeBar": False},
               post_script="document.body.style.margin='0';"
                           "document.body.style.overflow='hidden';")
